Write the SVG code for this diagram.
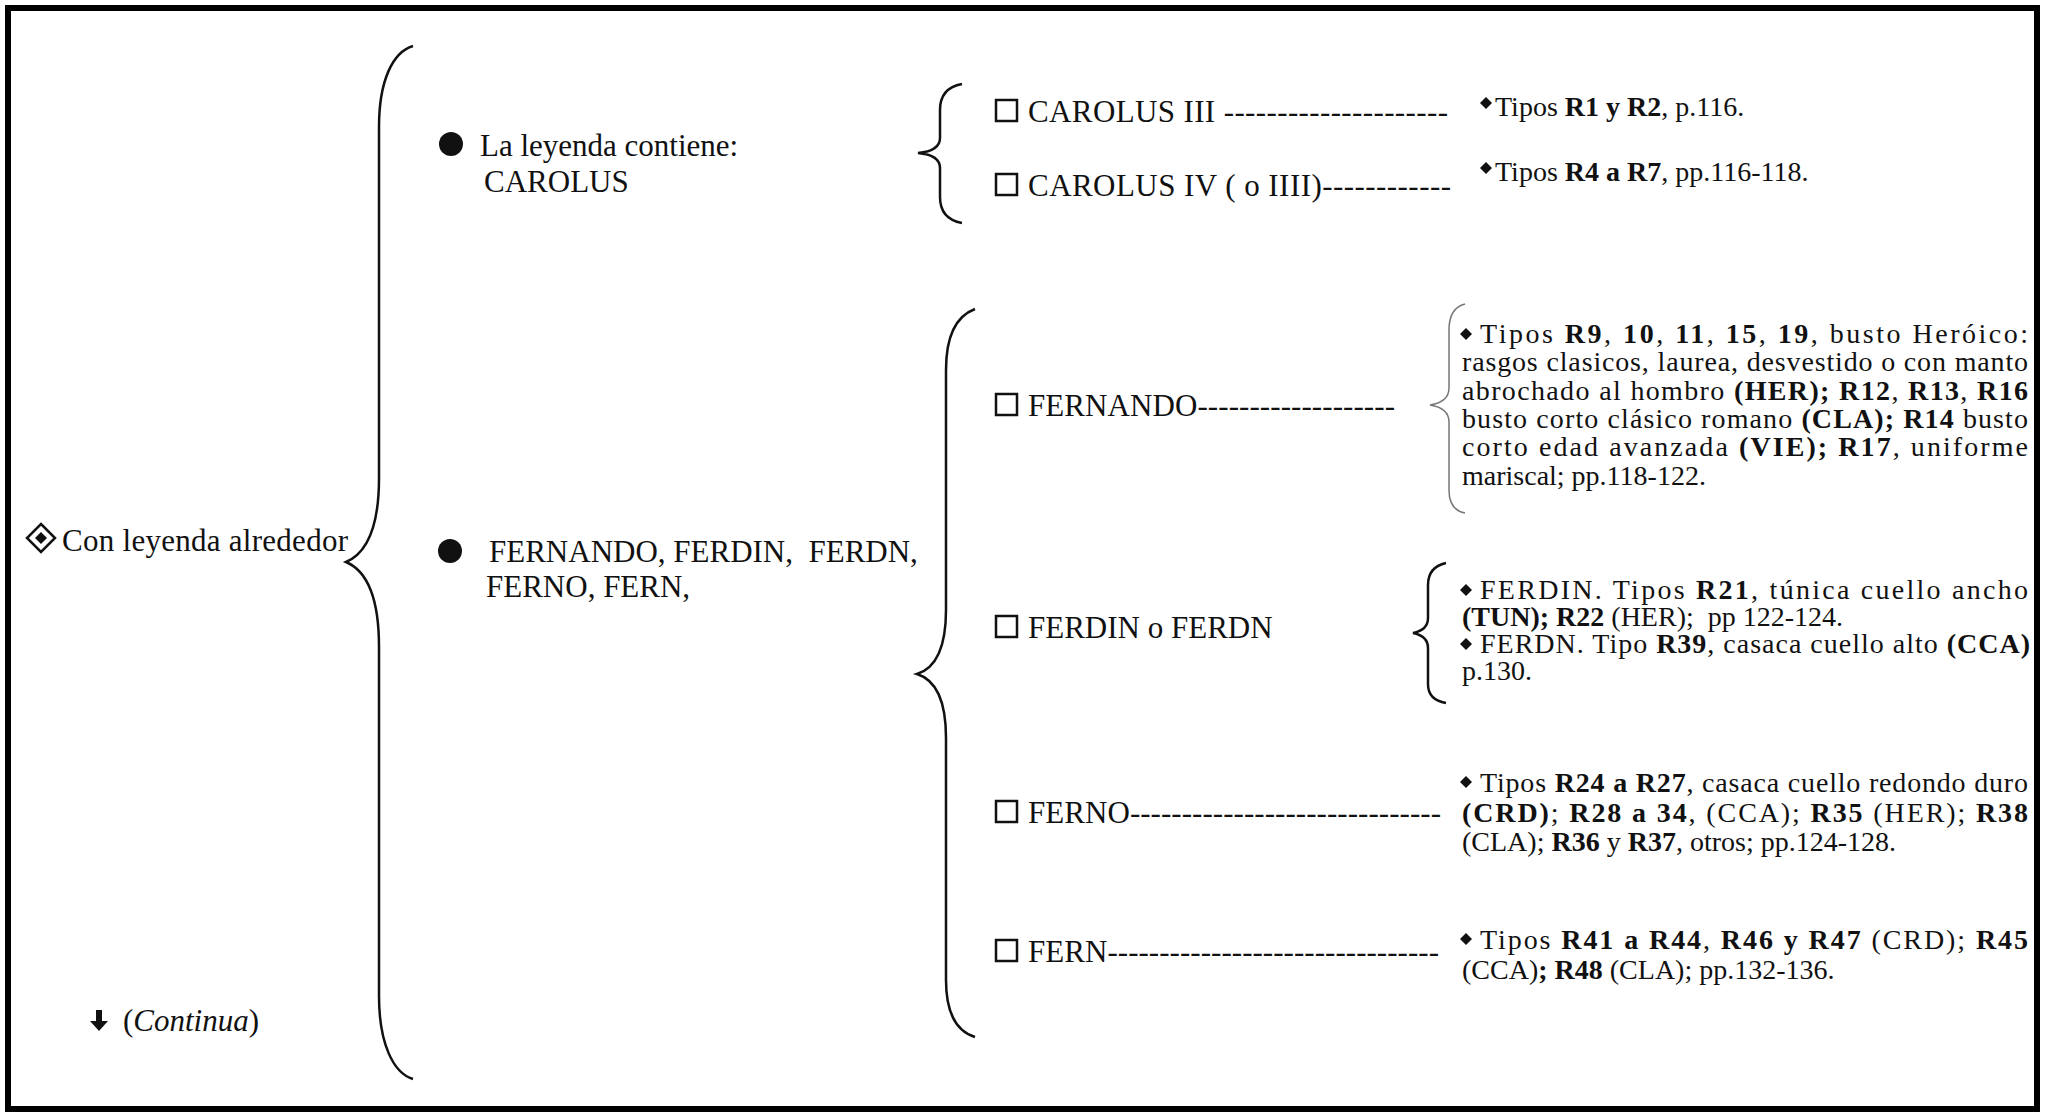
<svg xmlns="http://www.w3.org/2000/svg" width="2045" height="1117" viewBox="0 0 2045 1117">
<style>
.t{font-family:"Liberation Serif","Times New Roman",serif;font-size:31px;fill:#111}
.p{font-family:"Liberation Serif","Times New Roman",serif;font-size:28px;fill:#111}
.b{font-weight:bold}
.i{font-style:italic}
.br{fill:none;stroke:#111;stroke-width:2.5}
.brt{fill:none;stroke:#777;stroke-width:1.5}
.box{fill:#fff;stroke:#111;stroke-width:2.5}
.dot{fill:#111}
</style>
<rect x="0" y="0" width="2045" height="1117" fill="#fff"/>
<rect x="8" y="8" width="2029" height="1101" fill="none" stroke="#000" stroke-width="6"/>

<g id="connectors">
<path class="br" d="M413,46 C393,52 379,80 379,127 L379,478 Q379,548 346,562 Q379,576 379,647 L379,996 C379,1043 393,1073 413,1079"/>
<path class="br" d="M962,84 Q940,88 940,110 L940,138 Q940,151 918,153 Q940,155 940,168 L940,197 Q940,219 962,223"/>
<path class="br" d="M975,309 Q946,320 946,370 L946,610 Q946,665 917,674 Q946,683 946,738 L946,980 Q946,1028 975,1037"/>
<path class="brt" d="M1465,304 Q1449,308 1449,330 L1449,388 Q1449,402 1430,405 Q1449,408 1449,422 L1449,490 Q1449,510 1465,513"/>
<path class="br" d="M1446,563 Q1428,567 1428,585 L1428,618 Q1428,630 1413,633 Q1428,636 1428,648 L1428,684 Q1428,700 1446,703"/>
</g>

<g id="root">
<polygon points="41,524 55,538 41,552 27,538" fill="none" stroke="#111" stroke-width="2.5"/>
<polygon points="41,532 47,538 41,544 35,538" fill="#111"/>
<text class="t" x="62" y="551" textLength="286">Con leyenda alrededor</text>
</g>

<g id="continua">
<path d="M96,1010 h6 v11 h6 l-9,10 l-9,-10 h6 z" fill="#111"/>
<text class="t" x="123" y="1031">(<tspan class="i">Continua</tspan>)</text>
</g>

<g id="carolus">
<circle class="dot" cx="451" cy="144" r="12"/>
<text class="t" x="480" y="156">La leyenda contiene:</text>
<text class="t" x="484" y="192">CAROLUS</text>
</g>

<g id="fernando-group">
<circle class="dot" cx="450" cy="551" r="12"/>
<text class="t" x="489" y="562" xml:space="preserve">FERNANDO, FERDIN,  FERDN,</text>
<text class="t" x="486" y="597">FERNO, FERN,</text>
</g>

<g id="carolus3">
<rect class="box" x="996" y="100" width="21" height="21"/>
<text class="t" x="1028" y="122" textLength="420">CAROLUS III ---------------------</text>
</g>
<g id="carolus3-desc">
<polygon class="dot" points="1486,97 1492,103 1486,109 1480,103"/>
<text class="p" x="1495" y="116">Tipos <tspan class="b">R1 y R2</tspan>, p.116.</text>
</g>

<g id="carolus4">
<rect class="box" x="996" y="174" width="21" height="21"/>
<text class="t" x="1028" y="196" textLength="423">CAROLUS IV ( o IIII)------------</text>
</g>
<g id="carolus4-desc">
<polygon class="dot" points="1486,162 1492,168 1486,174 1480,168"/>
<text class="p" x="1495" y="181">Tipos <tspan class="b">R4 a R7</tspan>, pp.116-118.</text>
</g>

<g id="fernando">
<rect class="box" x="996" y="394" width="21" height="21"/>
<text class="t" x="1028" y="416" textLength="367">FERNANDO-------------------</text>
</g>
<g id="fernando-desc">
<polygon class="dot" points="1466,328 1472,334 1466,340 1460,334"/>
<text class="p" x="1480" y="343" textLength="548">Tipos <tspan class="b">R9</tspan>, <tspan class="b">10</tspan>, <tspan class="b">11</tspan>, <tspan class="b">15</tspan>, <tspan class="b">19</tspan>, busto Heróico:</text>
<text class="p" x="1462" y="371.3" textLength="566">rasgos clasicos, laurea, desvestido o con manto</text>
<text class="p" x="1462" y="399.6" textLength="566">abrochado al hombro <tspan class="b">(HER); R12</tspan>, <tspan class="b">R13</tspan>, <tspan class="b">R16</tspan></text>
<text class="p" x="1462" y="427.9" textLength="566">busto corto clásico romano <tspan class="b">(CLA); R14</tspan> busto</text>
<text class="p" x="1462" y="456.2" textLength="566">corto edad avanzada <tspan class="b">(VIE); R17</tspan>, uniforme</text>
<text class="p" x="1462" y="484.5">mariscal; pp.118-122.</text>
</g>

<g id="ferdin">
<rect class="box" x="996" y="616" width="21" height="21"/>
<text class="t" x="1028" y="638">FERDIN o FERDN</text>
</g>
<g id="ferdin-desc">
<polygon class="dot" points="1466,584 1472,590 1466,596 1460,590"/>
<text class="p" x="1480" y="599" textLength="548">FERDIN. Tipos <tspan class="b">R21</tspan>, túnica cuello ancho</text>
<text class="p" x="1462" y="626" xml:space="preserve"><tspan class="b">(TUN); R22</tspan> (HER);  pp 122-124.</text>
<polygon class="dot" points="1466,638 1472,644 1466,650 1460,644"/>
<text class="p" x="1480" y="653" textLength="550">FERDN. Tipo <tspan class="b">R39</tspan>, casaca cuello alto <tspan class="b">(CCA)</tspan></text>
<text class="p" x="1462" y="680">p.130.</text>
</g>

<g id="ferno">
<rect class="box" x="996" y="801" width="21" height="21"/>
<text class="t" x="1028" y="823" textLength="413">FERNO------------------------------</text>
</g>
<g id="ferno-desc">
<polygon class="dot" points="1466,776 1472,782 1466,788 1460,782"/>
<text class="p" x="1480" y="792" textLength="548">Tipos <tspan class="b">R24 a R27</tspan>, casaca cuello redondo duro</text>
<text class="p" x="1462" y="821.5" textLength="566"><tspan class="b">(CRD)</tspan>; <tspan class="b">R28 a 34</tspan>, (CCA); <tspan class="b">R35</tspan> (HER); <tspan class="b">R38</tspan></text>
<text class="p" x="1462" y="851">(CLA); <tspan class="b">R36</tspan> y <tspan class="b">R37</tspan>, otros; pp.124-128.</text>
</g>

<g id="fern">
<rect class="box" x="996" y="940" width="21" height="21"/>
<text class="t" x="1028" y="962" textLength="411">FERN--------------------------------</text>
</g>
<g id="fern-desc">
<polygon class="dot" points="1466,933 1472,939 1466,945 1460,939"/>
<text class="p" x="1480" y="949" textLength="548">Tipos <tspan class="b">R41 a R44</tspan>, <tspan class="b">R46 y R47</tspan> (CRD); <tspan class="b">R45</tspan></text>
<text class="p" x="1462" y="978.5">(CCA)<tspan class="b">; R48</tspan> (CLA); pp.132-136.</text>
</g>
</svg>
